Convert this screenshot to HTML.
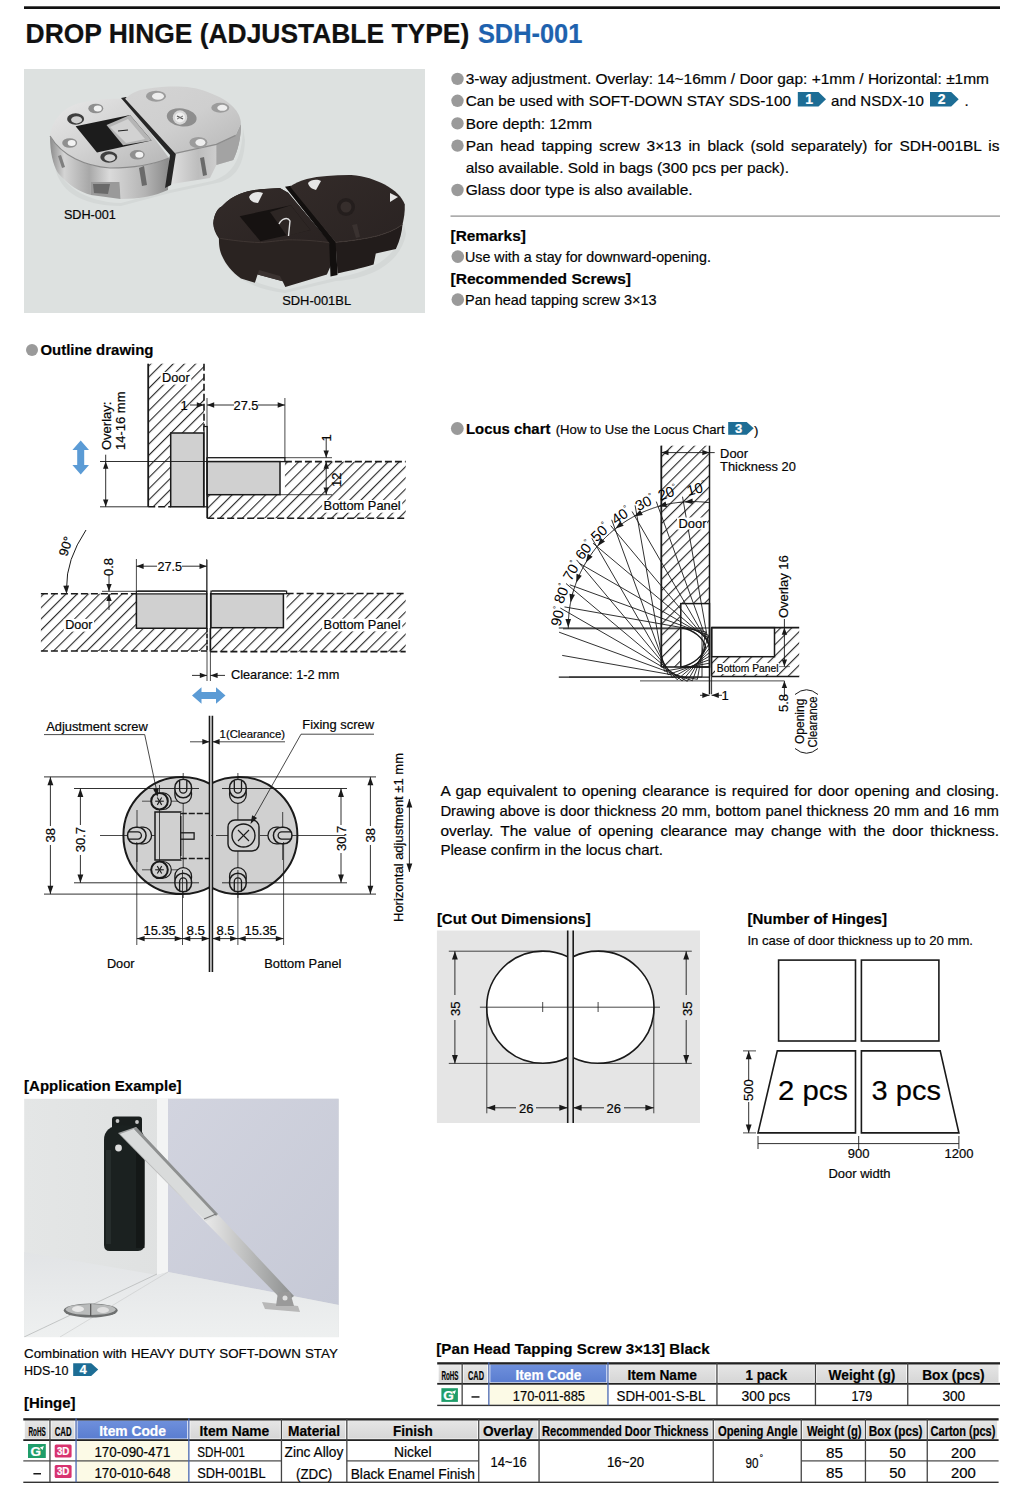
<!DOCTYPE html>
<html><head><meta charset="utf-8"><title>SDH-001</title>
<style>
html,body{margin:0;padding:0;background:#fff;}
body{width:1011px;height:1488px;overflow:hidden;}
svg{display:block;font-family:"Liberation Sans",sans-serif;}
</style></head><body>
<svg width="1011" height="1488" viewBox="0 0 1011 1488">
<defs>

<linearGradient id="silTop" x1="0" y1="0" x2="1" y2="1">
 <stop offset="0" stop-color="#e9e9e9"/><stop offset="0.5" stop-color="#d2d2d2"/><stop offset="1" stop-color="#b5b5b5"/>
</linearGradient>
<linearGradient id="silSide" x1="0" y1="0" x2="1" y2="0">
 <stop offset="0" stop-color="#8c8c8c"/><stop offset="0.12" stop-color="#d4d4d4"/><stop offset="0.33" stop-color="#a8a8a8"/><stop offset="0.5" stop-color="#dadada"/><stop offset="0.8" stop-color="#b4b4b4"/><stop offset="1" stop-color="#8a8a8a"/>
</linearGradient>
<linearGradient id="silSide2" x1="0" y1="0" x2="1" y2="0">
 <stop offset="0" stop-color="#e0e0e0"/><stop offset="0.4" stop-color="#bdbdbd"/><stop offset="0.7" stop-color="#d0d0d0"/><stop offset="1" stop-color="#9a9a9a"/>
</linearGradient>
<linearGradient id="silTop2" x1="0" y1="0" x2="1" y2="1">
 <stop offset="0" stop-color="#d4d4d4"/><stop offset="0.5" stop-color="#cfcfcf"/><stop offset="1" stop-color="#b8b8b8"/>
</linearGradient>
<linearGradient id="blkTop" x1="0" y1="0" x2="1" y2="1">
 <stop offset="0" stop-color="#332b29"/><stop offset="1" stop-color="#2a2322"/>
</linearGradient>
<linearGradient id="blkSide" x1="0" y1="0" x2="1" y2="0">
 <stop offset="0" stop-color="#1e1a19"/><stop offset="0.5" stop-color="#2b2524"/><stop offset="1" stop-color="#1c1817"/>
</linearGradient>


<pattern id="hatch" patternUnits="userSpaceOnUse" width="7.9" height="7.9" patternTransform="rotate(45)">
 <line x1="0.6" y1="-1" x2="0.6" y2="9" stroke="#1a1a1a" stroke-width="1.05"/>
</pattern>
<pattern id="hatch2" patternUnits="userSpaceOnUse" width="7.0" height="7.0" patternTransform="rotate(45)">
 <line x1="0.6" y1="-1" x2="0.6" y2="9" stroke="#1a1a1a" stroke-width="1.0"/>
</pattern>


<clipPath id="clipL"><rect x="0" y="700" width="209.5" height="300"/></clipPath>
<clipPath id="clipR"><rect x="212.4" y="700" width="300" height="300"/></clipPath>

<clipPath id="fanClip"><rect x="500" y="440" width="209.5" height="300"/></clipPath>
<clipPath id="cL"><rect x="430" y="930" width="137.7" height="200"/></clipPath>
<clipPath id="cR"><rect x="573.2" y="930" width="137" height="200"/></clipPath>

<linearGradient id="wallL" x1="0" y1="0" x2="1" y2="0">
 <stop offset="0" stop-color="#e4e6e6"/><stop offset="1" stop-color="#d9dbdb"/>
</linearGradient>
<linearGradient id="wallR" x1="0" y1="0" x2="1" y2="1">
 <stop offset="0" stop-color="#d2d4df"/><stop offset="1" stop-color="#c6c9d6"/>
</linearGradient>
<linearGradient id="floorG" x1="0" y1="0" x2="0" y2="1">
 <stop offset="0" stop-color="#e2e4e6"/><stop offset="1" stop-color="#eef0f0"/>
</linearGradient>
<linearGradient id="armG" x1="0" y1="0" x2="1" y2="0">
 <stop offset="0" stop-color="#9a9c9c"/><stop offset="0.5" stop-color="#e8e8e8"/><stop offset="1" stop-color="#8c8e8e"/>
</linearGradient>
<clipPath id="appClip"><rect x="24.1" y="1098.6" width="314.7" height="238.7"/></clipPath>


<linearGradient id="hdrG" x1="0" y1="0" x2="0" y2="1">
 <stop offset="0" stop-color="#e6e6e6"/><stop offset="1" stop-color="#d6d6d6"/>
</linearGradient>
<linearGradient id="hdrB" x1="0" y1="0" x2="0" y2="1">
 <stop offset="0" stop-color="#6f90dc"/><stop offset="1" stop-color="#5a7dd0"/>
</linearGradient>

</defs>
<rect x="24.0" y="6.3" width="976.0" height="2.7" fill="#111" />
<text x="25.6" y="43.0" font-size="28" font-weight="bold" fill="#111" stroke="#111" stroke-width="0.22" textLength="443.6" lengthAdjust="spacingAndGlyphs" >DROP HINGE (ADJUSTABLE TYPE)</text>
<text x="477.9" y="43.0" font-size="28" font-weight="bold" fill="#1e62ae" stroke="#1e62ae" stroke-width="0.22" textLength="104.5" lengthAdjust="spacingAndGlyphs" >SDH-001</text>
<rect x="24.0" y="69.0" width="401.0" height="244.0" fill="#dde1e0" />
<circle cx="457.5" cy="78.9" r="6.2" fill="#9a9a9a" />
<text x="465.7" y="84.1" font-size="15" stroke="#1a1a1a" stroke-width="0.22" textLength="523.3" lengthAdjust="spacingAndGlyphs" >3-way adjustment. Overlay: 14~16mm / Door gap: +1mm / Horizontal: ±1mm</text>
<circle cx="457.5" cy="100.8" r="6.2" fill="#9a9a9a" />
<text x="465.7" y="106.0" font-size="15" stroke="#1a1a1a" stroke-width="0.22" textLength="325.3" lengthAdjust="spacingAndGlyphs" >Can be used with SOFT-DOWN STAY SDS-100</text>
<path d="M797.8,92.0 H818.5 L826.0,99.2 L818.5,106.5 H797.8 Z" fill="#1d6d95" />
<text x="809.1" y="104.2" font-size="14" font-weight="bold" fill="#fff" stroke="#fff" stroke-width="0.22" text-anchor="middle" >1</text>
<text x="831.0" y="106.0" font-size="15" stroke="#1a1a1a" stroke-width="0.22" textLength="93.0" lengthAdjust="spacingAndGlyphs" >and NSDX-10</text>
<path d="M930.0,92.0 H951.2 L958.7,99.2 L951.2,106.5 H930.0 Z" fill="#1d6d95" />
<text x="941.6" y="104.2" font-size="14" font-weight="bold" fill="#fff" stroke="#fff" stroke-width="0.22" text-anchor="middle" >2</text>
<text x="964.5" y="106.0" font-size="15" stroke="#1a1a1a" stroke-width="0.22" >.</text>
<circle cx="457.5" cy="123.4" r="6.2" fill="#9a9a9a" />
<text x="465.7" y="128.6" font-size="15" stroke="#1a1a1a" stroke-width="0.22" textLength="126.3" lengthAdjust="spacingAndGlyphs" >Bore depth: 12mm</text>
<circle cx="457.5" cy="145.6" r="6.2" fill="#9a9a9a" />
<text x="465.7" y="150.8" font-size="15" stroke="#1a1a1a" stroke-width="0.22" textLength="533.8" lengthAdjust="spacingAndGlyphs" word-spacing="2.63">Pan head tapping screw 3×13 in black (sold separately) for SDH-001BL is</text>
<text x="465.7" y="173.0" font-size="15" stroke="#1a1a1a" stroke-width="0.22" textLength="323.3" lengthAdjust="spacingAndGlyphs" >also available. Sold in bags (300 pcs per pack).</text>
<circle cx="457.5" cy="190.0" r="6.2" fill="#9a9a9a" />
<text x="465.7" y="195.2" font-size="15" stroke="#1a1a1a" stroke-width="0.22" textLength="226.9" lengthAdjust="spacingAndGlyphs" >Glass door type is also available.</text>
<rect x="450.5" y="215.5" width="549.5" height="1.2" fill="#8a8a8a" />
<text x="450.5" y="241.0" font-size="15" font-weight="bold" stroke="#1a1a1a" stroke-width="0.22" textLength="75.4" lengthAdjust="spacingAndGlyphs" >[Remarks]</text>
<circle cx="457.8" cy="256.6" r="6.3" fill="#9a9a9a" />
<text x="465.0" y="261.5" font-size="14.3" stroke="#1a1a1a" stroke-width="0.22" textLength="245.9" lengthAdjust="spacingAndGlyphs" >Use with a stay for downward-opening.</text>
<text x="450.5" y="283.7" font-size="15" font-weight="bold" stroke="#1a1a1a" stroke-width="0.22" textLength="180.5" lengthAdjust="spacingAndGlyphs" >[Recommended Screws]</text>
<circle cx="457.8" cy="299.6" r="6.3" fill="#9a9a9a" />
<text x="465.0" y="304.7" font-size="14.3" stroke="#1a1a1a" stroke-width="0.22" textLength="191.6" lengthAdjust="spacingAndGlyphs" >Pan head tapping screw 3×13</text>
<path d="M54,160 C60,185 85,202 121,203 L170,190 L212,181 C232,175 242,160 243,128 L245,140 C244,170 232,181 212,184 L170,193 L121,206 C80,206 56,190 54,160 Z" fill="#d4d8d7" />
<path d="M50,136 C50,152 53,165 58,173 C68,185 80,192 91,195 L91,182 L119.5,182 L120.5,199 C140,199 155,196 168,190 L169,158 C150,166 128,168 110,168 C85,166 62,156 50,136 Z" fill="url(#silSide)" />
<path d="M91,182 L119.5,182 L120.5,199 L91,195 Z" fill="#9a9a9a" />
<path d="M93,184 L110,184 L108,194 L94,193 Z" fill="#6a6a6a" />
<line x1="51.0" y1="140.0" x2="168.0" y2="159.0" stroke="#1a1a1a" stroke-width="0" />
<path d="M50,136 C52,118 65,107 80,103 C95,99 112,98 125,99 L169,158 C150,166 128,168 110,168 C85,166 62,156 50,136 Z" fill="url(#silTop)" />
<path d="M50,136 C62,156 85,166 110,168 C128,168 150,166 169,158" fill="none" stroke="#8a8a8a" stroke-width="1.2" />
<path d="M75.6,126.3 L130,115 L151.6,140.5 L97,152.4 Z" fill="#1c1c1c" />
<path d="M106.5,125 L130,115 L151.6,140.5 L123,145.3 Z" fill="#b5b5b5" />
<path d="M110,127 L128,119 L145,139 L126,143 Z" fill="#d2d2d2" />
<line x1="118.0" y1="131.0" x2="128.0" y2="130.0" stroke="#222" stroke-width="1.2" />
<ellipse cx="75.6" cy="119" rx="8.5" ry="5.8" fill="#3e3e3e"/>
<ellipse cx="76.6" cy="119.8" rx="5.5" ry="3.6" fill="#d0d0d0"/>
<ellipse cx="108.8" cy="157" rx="8.5" ry="5.8" fill="#3e3e3e"/>
<ellipse cx="109.8" cy="157.8" rx="5.5" ry="3.6" fill="#d0d0d0"/>
<ellipse cx="69.7" cy="143" rx="7.5" ry="4.8" fill="#8f8f8f"/>
<ellipse cx="71.7" cy="143" rx="4" ry="3" fill="#f2f2f2"/>
<ellipse cx="95.8" cy="108.5" rx="7.5" ry="4.8" fill="#8f8f8f"/>
<ellipse cx="97.8" cy="108.5" rx="4" ry="3" fill="#f2f2f2"/>
<ellipse cx="137.3" cy="154.8" rx="7.5" ry="4.8" fill="#8f8f8f"/>
<ellipse cx="139.3" cy="154.8" rx="4" ry="3" fill="#f2f2f2"/>
<path d="M58,156 L62,168 L65,167 L61,155 Z" fill="#7f7f7f" />
<path d="M139,168 L142,186 L147,185 L144,166 Z" fill="#6a6a6a" />
<path d="M175.3,153.4 L170.1,184.3 L210,177.9 L216.4,165 L233.2,159.9 C238,150 241,138 240.9,123.9 C239,128 237,132 235.7,135.4 L216.4,144.4 Z" fill="url(#silSide2)" />
<path d="M216.4,144.4 L216.4,165 L233.2,159.9 C238,150 241,138 240.9,123.9 L235.7,135.4 Z" fill="#a3a3a3" />
<path d="M200,158 L203,176 L207,175 L204,157 Z" fill="#6a6a6a" />
<path d="M121,98 L126,97 L176,153 L171,185 L165,188 L170,155 Z" fill="#262626" />
<path d="M125.1,98.8 C132,93 138,90 145.7,89.1 C158,87 168,86.5 177.9,86.6 C192,87 200,89 210,93 C220,97 228,101 233.2,107.1 C238,112 241,118 240.9,123.9 C239,128 237,132 235.7,135.4 L216.4,144.4 L175.3,153.4 Z" fill="url(#silTop2)" />
<path d="M175.3,153.4 L216.4,144.4 L235.7,135.4" fill="none" stroke="#8c8c8c" stroke-width="1.2" />
<ellipse cx="156" cy="96.2" rx="10" ry="5.5" fill="#9c9c9c"/>
<ellipse cx="158" cy="96.2" rx="6" ry="3.5" fill="#eeeeee"/>
<ellipse cx="220.3" cy="107.8" rx="9" ry="5" fill="#9c9c9c"/>
<ellipse cx="222.3" cy="107.8" rx="5" ry="3" fill="#eeeeee"/>
<ellipse cx="198.4" cy="142.5" rx="9" ry="5.5" fill="#9c9c9c"/>
<ellipse cx="200.4" cy="142.5" rx="5" ry="3.5" fill="#eeeeee"/>
<ellipse cx="181.7" cy="117.4" rx="15" ry="9" fill="#8e8e8e" transform="rotate(8 181.7 117.4)"/>
<circle cx="180.0" cy="117.5" r="7.2" fill="#d6d6d6" />
<circle cx="180.0" cy="117.5" r="5.0" fill="#efefef" />
<line x1="177.0" y1="116.0" x2="183.0" y2="119.0" stroke="#555" stroke-width="1.3" />
<line x1="177.0" y1="119.0" x2="183.0" y2="116.0" stroke="#777" stroke-width="1.0" />
<text x="63.9" y="219.1" font-size="13" stroke="#1a1a1a" stroke-width="0.22" textLength="52.0" lengthAdjust="spacingAndGlyphs" >SDH-001</text>
<path d="M218,240 C222,262 240,282 285,290 L335,278 C372,272 400,257 404,224 L406,234 C401,262 372,279 336,281 L285,293 C240,287 220,268 218,240 Z" fill="#d4d8d7" />
<path d="M213.3,223.2 C214,214 218,208 221.6,206.5 C228,200 234,196 239.6,194 C247,191 253,190 260.4,189.2 L279.8,187.9 L288.1,192.7 L329.7,242.6 L332.4,262 L326.9,274.4 L285.3,286.9 L282.6,281.3 L257.6,274.4 L254.9,282.7 L241,278.6 C232,272 226,265 221.6,255 C219,248 219,243 218.9,238.4 C215,233 213.5,228 213.3,223.2 Z" fill="#2a2321" />
<path d="M213.3,223.2 C214,214 218,208 221.6,206.5 C228,200 234,196 239.6,194 C247,191 253,190 260.4,189.2 L279.8,187.9 L288.1,192.7 L329.7,242.6 C310,240 300,240 288,239.8 C275,241 268,242 260.4,242.6 C245,242 230,240 220.2,238.4 C216,233 213.5,228 213.3,223.2 Z" fill="url(#blkTop)" />
<path d="M220.2,238.4 C230,240 245,242 260.4,242.6 C268,242 275,241 288,239.8 C300,240 310,240 329.7,242.6" fill="none" stroke="#3f3633" stroke-width="1.0" />
<path d="M239.6,216.2 L290.9,205.2 L310.3,230.1 L260.4,241.2 Z" fill="#161211" />
<path d="M270,212 L290.9,205.2 L310.3,230.1 L287,236 Z" fill="#2d2624" />
<path d="M279,224 C282,218 288,217 290,221 L288.5,236" fill="none" stroke="#e0e0e0" stroke-width="1.4" />
<path d="M257.6,274.4 L282.6,281.3 L280,276 L259,270 Z" fill="#3a3230" />
<path d="M285,186.8 L291,185.8 L336,242.2 L337.5,275 L330.5,276.5 L329.2,242.8 Z" fill="#120f0e" />
<path d="M335.5,242.3 L337.5,273.5 C355,270 365,267 373.6,264.6 L375.8,253.5 L395.9,249 C400,240 402,232 402.5,224.5 C395,230 387,233 378,235.7 C365,239 350,241 335.5,242.3 Z" fill="#221c1b" />
<path d="M290,186.5 C295,183 300,181 306.8,179 C320,176 335,175 351.3,175.1 C365,176 375,180 384.7,184.5 C395,190 402,197 404.8,204.5 C405,212 404,218 402.5,224.5 C395,230 387,233 378,235.7 C365,239 350,241 335.5,242.3 Z" fill="url(#blkTop)" />
<path d="M335.5,242.3 C350,241 365,239 378,235.7 C387,233 395,230 402.5,224.5" fill="none" stroke="#3f3633" stroke-width="1.0" />
<path d="M249,197 C251,192 258,191 263,193 L258,203 C254,203 250,201 249,197 Z" fill="#e6e6e6" />
<path d="M308,183 C311,179 318,179 321,181 L316,190 C312,189 309,187 308,183 Z" fill="#e6e6e6" />
<path d="M390,193 L398,197 L390,202 Z" fill="#e6e6e6" />
<circle cx="346.0" cy="207.0" r="9.0" fill="#241e1d" />
<circle cx="346.0" cy="207.0" r="5.5" fill="#362e2c" />
<path d="M352,225 L356,238 L360,237 L357,224 Z" fill="#3a3230" />
<text x="282.2" y="304.7" font-size="13" stroke="#1a1a1a" stroke-width="0.22" textLength="68.9" lengthAdjust="spacingAndGlyphs" >SDH-001BL</text>
<circle cx="32.0" cy="350.0" r="6.0" fill="#9a9a9a" />
<text x="40.4" y="355.4" font-size="15" font-weight="bold" stroke="#1a1a1a" stroke-width="0.22" textLength="113.1" lengthAdjust="spacingAndGlyphs" >Outline drawing</text>
<rect x="148.2" y="363.7" width="55.8" height="143.1" fill="url(#hatch)" />
<line x1="148.2" y1="363.7" x2="148.2" y2="506.8" stroke="#1a1a1a" stroke-width="1.8" />
<line x1="204.0" y1="363.7" x2="204.0" y2="433.0" stroke="#1a1a1a" stroke-width="1.6" stroke-dasharray="7 3"/>
<line x1="148.2" y1="506.8" x2="170.7" y2="506.8" stroke="#1a1a1a" stroke-width="1.6" stroke-dasharray="7 3"/>
<rect x="204.0" y="426.5" width="3.2" height="80.3" fill="#fff" stroke="#1a1a1a" stroke-width="1.2" />
<rect x="170.7" y="433.0" width="33.0" height="73.8" fill="#d0d0d0" stroke="#1a1a1a" stroke-width="1.5" />
<rect x="207.2" y="461.6" width="198.5" height="56.6" fill="url(#hatch)" />
<rect x="207.2" y="457.7" width="77.7" height="37.0" fill="#fff" />
<line x1="207.2" y1="457.7" x2="207.2" y2="518.2" stroke="#1a1a1a" stroke-width="1.8" />
<line x1="284.9" y1="461.6" x2="405.7" y2="461.6" stroke="#1a1a1a" stroke-width="1.6" stroke-dasharray="7 3"/>
<line x1="207.2" y1="518.2" x2="405.7" y2="518.2" stroke="#1a1a1a" stroke-width="1.6" stroke-dasharray="7 3"/>
<rect x="207.2" y="457.7" width="77.7" height="3.9" fill="#fff" stroke="#1a1a1a" stroke-width="1.3" />
<rect x="207.2" y="461.6" width="72.8" height="33.1" fill="#d0d0d0" stroke="#1a1a1a" stroke-width="1.5" />
<line x1="100.0" y1="461.5" x2="207.0" y2="461.5" stroke="#1a1a1a" stroke-width="0.9" />
<line x1="100.0" y1="506.8" x2="148.2" y2="506.8" stroke="#1a1a1a" stroke-width="0.9" />
<line x1="105.7" y1="454.7" x2="105.7" y2="506.8" stroke="#1a1a1a" stroke-width="0.9" />
<path d="M105.70,461.50 L108.38,468.70 L103.02,468.70 Z" fill="#1a1a1a" />
<path d="M105.70,506.80 L103.02,499.60 L108.38,499.60 Z" fill="#1a1a1a" />
<text x="110.5" y="450.0" font-size="13" stroke="#1a1a1a" stroke-width="0.22" transform="rotate(-90 110.5 450.0)" >Overlay:</text>
<text x="124.5" y="450.0" font-size="13" stroke="#1a1a1a" stroke-width="0.22" transform="rotate(-90 124.5 450.0)" >14-16 mm</text>
<path d="M80.7,440.5 L89,450 L84.2,450 L84.2,465 L89,465 L80.7,474.5 L72.4,465 L77.2,465 L77.2,450 L72.4,450 Z" fill="#5b9bd5" />
<line x1="207.0" y1="398.0" x2="207.0" y2="457.7" stroke="#1a1a1a" stroke-width="0.8" />
<line x1="284.9" y1="398.0" x2="284.9" y2="457.7" stroke="#1a1a1a" stroke-width="0.8" />
<line x1="190.0" y1="405.0" x2="204.0" y2="405.0" stroke="#1a1a1a" stroke-width="0.9" />
<path d="M204.00,405.00 L196.80,407.68 L196.80,402.32 Z" fill="#1a1a1a" />
<line x1="207.0" y1="405.0" x2="234.0" y2="405.0" stroke="#1a1a1a" stroke-width="0.9" />
<path d="M207.00,405.00 L214.20,402.32 L214.20,407.68 Z" fill="#1a1a1a" />
<line x1="258.0" y1="405.0" x2="284.9" y2="405.0" stroke="#1a1a1a" stroke-width="0.9" />
<path d="M284.90,405.00 L277.70,407.68 L277.70,402.32 Z" fill="#1a1a1a" />
<text x="233.5" y="410.0" font-size="13" stroke="#1a1a1a" stroke-width="0.22" textLength="25.0" lengthAdjust="spacingAndGlyphs" >27.5</text>
<text x="180.5" y="410.0" font-size="13" stroke="#1a1a1a" stroke-width="0.22" >1</text>
<rect x="160.5" y="371.9" width="30.7" height="12.7" fill="#fff" />
<text x="162.0" y="382.0" font-size="13" stroke="#1a1a1a" stroke-width="0.22" textLength="27.7" lengthAdjust="spacingAndGlyphs" >Door</text>
<line x1="285.0" y1="457.7" x2="332.0" y2="457.7" stroke="#1a1a1a" stroke-width="0.8" />
<line x1="280.0" y1="494.7" x2="332.0" y2="494.7" stroke="#1a1a1a" stroke-width="0.8" />
<line x1="326.2" y1="438.0" x2="326.2" y2="457.7" stroke="#1a1a1a" stroke-width="0.9" />
<path d="M326.20,457.70 L323.52,450.50 L328.88,450.50 Z" fill="#1a1a1a" />
<line x1="326.2" y1="461.6" x2="326.2" y2="494.7" stroke="#1a1a1a" stroke-width="0.9" />
<path d="M326.20,461.60 L328.88,468.80 L323.52,468.80 Z" fill="#1a1a1a" />
<path d="M326.20,494.70 L323.52,487.50 L328.88,487.50 Z" fill="#1a1a1a" />
<text x="331.0" y="441.5" font-size="13" stroke="#1a1a1a" stroke-width="0.22" transform="rotate(-90 331.0 441.5)" >1</text>
<text x="340.5" y="487.0" font-size="13" stroke="#1a1a1a" stroke-width="0.22" transform="rotate(-90 340.5 487.0)" >12</text>
<rect x="322.1" y="500.0" width="80.1" height="12.7" fill="#fff" />
<text x="323.6" y="510.1" font-size="13" stroke="#1a1a1a" stroke-width="0.22" textLength="77.1" lengthAdjust="spacingAndGlyphs" >Bottom Panel</text>
<rect x="40.9" y="593.7" width="166.1" height="57.3" fill="url(#hatch)" />
<rect x="210.4" y="593.5" width="195.3" height="58.1" fill="url(#hatch)" />
<rect x="136.4" y="591.3" width="70.3" height="37.0" fill="#fff" />
<rect x="211.0" y="591.1" width="75.6" height="36.6" fill="#fff" />
<path d="M136.4,628.3 V593.7 L138,591.3 H205 L206.7,593.7 V628.3 Z" fill="#d0d0d0" stroke="#1a1a1a" stroke-width="1.5" />
<rect x="136.4" y="591.3" width="70.3" height="2.6" fill="#fff" stroke="#1a1a1a" stroke-width="1.2" />
<path d="M211,627.7 V593.7 L212.5,591.1 H285 L286.6,593.5" fill="none" stroke="#1a1a1a" stroke-width="1.4" />
<rect x="211.0" y="593.7" width="72.4" height="34.0" fill="#d0d0d0" stroke="#1a1a1a" stroke-width="1.5" />
<rect x="211.0" y="591.1" width="75.6" height="2.6" fill="#fff" stroke="#1a1a1a" stroke-width="1.2" />
<line x1="40.9" y1="593.7" x2="136.4" y2="593.7" stroke="#1a1a1a" stroke-width="1.6" stroke-dasharray="7 3"/>
<line x1="286.6" y1="593.5" x2="405.7" y2="593.5" stroke="#1a1a1a" stroke-width="1.6" stroke-dasharray="7 3"/>
<line x1="40.9" y1="651.0" x2="207.0" y2="651.0" stroke="#1a1a1a" stroke-width="1.6" stroke-dasharray="7 3"/>
<line x1="210.4" y1="651.6" x2="405.7" y2="651.6" stroke="#1a1a1a" stroke-width="1.6" stroke-dasharray="7 3"/>
<line x1="207.0" y1="628.0" x2="207.0" y2="651.0" stroke="#1a1a1a" stroke-width="1.4" stroke-dasharray="4 2"/>
<line x1="210.4" y1="628.0" x2="210.4" y2="651.6" stroke="#1a1a1a" stroke-width="1.6" />
<line x1="207.0" y1="560.0" x2="207.0" y2="681.0" stroke="#1a1a1a" stroke-width="0.8" />
<line x1="210.4" y1="593.0" x2="210.4" y2="681.0" stroke="#1a1a1a" stroke-width="0.8" />
<line x1="192.0" y1="675.4" x2="207.0" y2="675.4" stroke="#1a1a1a" stroke-width="0.9" />
<path d="M207.00,675.40 L199.80,678.08 L199.80,672.72 Z" fill="#1a1a1a" />
<line x1="210.4" y1="675.4" x2="225.0" y2="675.4" stroke="#1a1a1a" stroke-width="0.9" />
<path d="M210.40,675.40 L217.60,672.72 L217.60,678.08 Z" fill="#1a1a1a" />
<text x="231.0" y="678.8" font-size="13" stroke="#1a1a1a" stroke-width="0.22" textLength="108.3" lengthAdjust="spacingAndGlyphs" >Clearance: 1-2 mm</text>
<path d="M192,695.5 L201.5,687.2 L201.5,692 L216,692 L216,687.2 L225.5,695.5 L216,703.8 L216,699 L201.5,699 L201.5,703.8 Z" fill="#5b9bd5" />
<line x1="136.4" y1="559.0" x2="136.4" y2="591.3" stroke="#1a1a1a" stroke-width="0.8" />
<line x1="206.7" y1="559.0" x2="206.7" y2="591.3" stroke="#1a1a1a" stroke-width="0.8" />
<line x1="136.4" y1="566.2" x2="157.0" y2="566.2" stroke="#1a1a1a" stroke-width="0.9" />
<path d="M136.40,566.20 L143.60,563.52 L143.60,568.88 Z" fill="#1a1a1a" />
<line x1="182.0" y1="566.2" x2="206.7" y2="566.2" stroke="#1a1a1a" stroke-width="0.9" />
<path d="M206.70,566.20 L199.50,568.88 L199.50,563.52 Z" fill="#1a1a1a" />
<text x="157.5" y="571.0" font-size="13" stroke="#1a1a1a" stroke-width="0.22" textLength="24.5" lengthAdjust="spacingAndGlyphs" >27.5</text>
<line x1="102.0" y1="591.3" x2="136.4" y2="591.3" stroke="#1a1a1a" stroke-width="0.8" />
<line x1="109.0" y1="575.0" x2="109.0" y2="591.3" stroke="#1a1a1a" stroke-width="0.9" />
<path d="M109.00,591.30 L106.32,584.10 L111.68,584.10 Z" fill="#1a1a1a" />
<line x1="109.0" y1="593.7" x2="109.0" y2="610.0" stroke="#1a1a1a" stroke-width="0.9" />
<path d="M109.00,593.70 L111.68,600.90 L106.32,600.90 Z" fill="#1a1a1a" />
<text x="112.8" y="576.0" font-size="13" stroke="#1a1a1a" stroke-width="0.22" transform="rotate(-90 112.8 576.0)" >0.8</text>
<path d="M86,530 Q66,560 66.6,588" fill="none" stroke="#1a1a1a" stroke-width="1.0" />
<path d="M66.60,594.00 L63.26,585.76 L69.10,585.46 Z" fill="#1a1a1a" />
<text x="67.0" y="557.0" font-size="13" stroke="#1a1a1a" stroke-width="0.22" transform="rotate(-72 67.0 557.0)" >90°</text>
<rect x="63.7" y="618.9" width="30.3" height="12.7" fill="#fff" />
<text x="65.2" y="629.0" font-size="13" stroke="#1a1a1a" stroke-width="0.22" textLength="27.3" lengthAdjust="spacingAndGlyphs" >Door</text>
<rect x="322.1" y="618.7" width="80.1" height="12.7" fill="#fff" />
<text x="323.6" y="628.8" font-size="13" stroke="#1a1a1a" stroke-width="0.22" textLength="77.1" lengthAdjust="spacingAndGlyphs" >Bottom Panel</text>
<circle cx="182.0" cy="835.5" r="58.6" fill="#d0d0d0" stroke="#1a1a1a" stroke-width="2.0" clip-path="url(#clipL)"/>
<circle cx="238.8" cy="835.5" r="58.6" fill="#d0d0d0" stroke="#1a1a1a" stroke-width="2.0" clip-path="url(#clipR)"/>
<line x1="100.0" y1="835.5" x2="150.0" y2="835.5" stroke="#1a1a1a" stroke-width="0.8" />
<line x1="345.0" y1="835.5" x2="290.0" y2="835.5" stroke="#1a1a1a" stroke-width="0.8" />
<line x1="150" y1="835.5" x2="290" y2="835.5" stroke="#1a1a1a" stroke-width="0.8" stroke-dasharray="14 3 2 3"/>
<rect x="155.0" y="812.0" width="25.8" height="48.0" fill="#d0d0d0" stroke="#1a1a1a" stroke-width="1.5" />
<rect x="180.8" y="812.0" width="28.7" height="48.0" fill="#d0d0d0" />
<line x1="180.8" y1="813.5" x2="209.5" y2="813.5" stroke="#1a1a1a" stroke-width="1.6" stroke-dasharray="6 2"/>
<line x1="180.8" y1="858.5" x2="209.5" y2="858.5" stroke="#1a1a1a" stroke-width="1.6" stroke-dasharray="6 2"/>
<line x1="180.8" y1="816.0" x2="180.8" y2="856.0" stroke="#1a1a1a" stroke-width="1.3" />
<rect x="180.8" y="832.8" width="13.3" height="6.4" fill="#d0d0d0" stroke="#1a1a1a" stroke-width="1.3" />
<line x1="137.0" y1="810.0" x2="137.0" y2="862.0" stroke="#1a1a1a" stroke-width="0.8" />
<line x1="159.5" y1="785.0" x2="159.5" y2="878.0" stroke="#1a1a1a" stroke-width="0.8" />
<line x1="183.2" y1="773.0" x2="183.2" y2="898.0" stroke="#1a1a1a" stroke-width="0.8" />
<line x1="237.9" y1="773.0" x2="237.9" y2="898.0" stroke="#1a1a1a" stroke-width="0.8" />
<line x1="282.7" y1="812.0" x2="282.7" y2="860.0" stroke="#1a1a1a" stroke-width="0.8" />
<line x1="142.0" y1="801.2" x2="178.0" y2="801.2" stroke="#1a1a1a" stroke-width="0.7" />
<line x1="142.0" y1="869.8" x2="178.0" y2="869.8" stroke="#1a1a1a" stroke-width="0.7" />
<path d="M174.9,793.0 A8.3,8.3 0 0 1 191.5,793.0 V795.0 A8.3,8.3 0 0 1 174.9,795.0 Z" fill="#d0d0d0" stroke="#1a1a1a" stroke-width="1.3" />
<path d="M174.9,787.5 A8.3,8.3 0 0 1 191.5,787.5 V789.5 A8.3,8.3 0 0 1 174.9,789.5 Z" fill="#d0d0d0" stroke="#1a1a1a" stroke-width="1.5" />
<path d="M179.6,780.2 V789.5 A3.6,3.6 0 0 0 186.8,789.5 V780.2" fill="none" stroke="#1a1a1a" stroke-width="1.3" />
<path d="M174.9,876.0 A8.3,8.3 0 0 1 191.5,876.0 V878.0 A8.3,8.3 0 0 1 174.9,878.0 Z" fill="#d0d0d0" stroke="#1a1a1a" stroke-width="1.3" />
<path d="M174.9,881.5 A8.3,8.3 0 0 1 191.5,881.5 V883.5 A8.3,8.3 0 0 1 174.9,883.5 Z" fill="#d0d0d0" stroke="#1a1a1a" stroke-width="1.5" />
<path d="M179.6,890.8 V881.5 A3.6,3.6 0 0 1 186.8,881.5 V890.8" fill="none" stroke="#1a1a1a" stroke-width="1.3" />
<path d="M229.6,793.0 A8.3,8.3 0 0 1 246.2,793.0 V795.0 A8.3,8.3 0 0 1 229.6,795.0 Z" fill="#d0d0d0" stroke="#1a1a1a" stroke-width="1.3" />
<path d="M229.6,787.5 A8.3,8.3 0 0 1 246.2,787.5 V789.5 A8.3,8.3 0 0 1 229.6,789.5 Z" fill="#d0d0d0" stroke="#1a1a1a" stroke-width="1.5" />
<path d="M234.3,780.2 V789.5 A3.6,3.6 0 0 0 241.5,789.5 V780.2" fill="none" stroke="#1a1a1a" stroke-width="1.3" />
<path d="M229.6,876.0 A8.3,8.3 0 0 1 246.2,876.0 V878.0 A8.3,8.3 0 0 1 229.6,878.0 Z" fill="#d0d0d0" stroke="#1a1a1a" stroke-width="1.3" />
<path d="M229.6,881.5 A8.3,8.3 0 0 1 246.2,881.5 V883.5 A8.3,8.3 0 0 1 229.6,883.5 Z" fill="#d0d0d0" stroke="#1a1a1a" stroke-width="1.5" />
<path d="M234.3,890.8 V881.5 A3.6,3.6 0 0 1 241.5,881.5 V890.8" fill="none" stroke="#1a1a1a" stroke-width="1.3" />
<path d="M141.3,827.2 H143.3 A8.3,8.3 0 0 1 143.3,843.8 H141.3 A8.3,8.3 0 0 1 141.3,827.2 Z" fill="#d0d0d0" stroke="#1a1a1a" stroke-width="1.3" />
<path d="M135.8,827.2 H137.8 A8.3,8.3 0 0 1 137.8,843.8 H135.8 A8.3,8.3 0 0 1 135.8,827.2 Z" fill="#d0d0d0" stroke="#1a1a1a" stroke-width="1.5" />
<path d="M128.5,831.9 H137.8 A3.6,3.6 0 0 1 137.8,839.1 H128.5" fill="none" stroke="#1a1a1a" stroke-width="1.3" />
<path d="M276.2,827.2 H278.2 A8.3,8.3 0 0 1 278.2,843.8 H276.2 A8.3,8.3 0 0 1 276.2,827.2 Z" fill="#d0d0d0" stroke="#1a1a1a" stroke-width="1.3" />
<path d="M281.7,827.2 H283.7 A8.3,8.3 0 0 1 283.7,843.8 H281.7 A8.3,8.3 0 0 1 281.7,827.2 Z" fill="#d0d0d0" stroke="#1a1a1a" stroke-width="1.5" />
<path d="M291.0,831.9 H281.7 A3.6,3.6 0 0 0 281.7,839.1 H291.0" fill="none" stroke="#1a1a1a" stroke-width="1.3" />
<circle cx="163.0" cy="801.2" r="8.3" fill="#d0d0d0" stroke="#1a1a1a" stroke-width="1.2" />
<circle cx="159.5" cy="801.2" r="8.3" fill="#d0d0d0" stroke="#1a1a1a" stroke-width="2.0" />
<line x1="155.2" y1="801.2" x2="163.8" y2="801.2" stroke="#1a1a1a" stroke-width="1.1" />
<line x1="157.3" y1="797.5" x2="161.7" y2="804.9" stroke="#1a1a1a" stroke-width="1.1" />
<line x1="161.7" y1="797.5" x2="157.3" y2="804.9" stroke="#1a1a1a" stroke-width="1.1" />
<circle cx="163.0" cy="869.8" r="8.3" fill="#d0d0d0" stroke="#1a1a1a" stroke-width="1.2" />
<circle cx="159.5" cy="869.8" r="8.3" fill="#d0d0d0" stroke="#1a1a1a" stroke-width="2.0" />
<line x1="155.2" y1="869.8" x2="163.8" y2="869.8" stroke="#1a1a1a" stroke-width="1.1" />
<line x1="157.3" y1="866.1" x2="161.7" y2="873.5" stroke="#1a1a1a" stroke-width="1.1" />
<line x1="161.7" y1="866.1" x2="157.3" y2="873.5" stroke="#1a1a1a" stroke-width="1.1" />
<rect x="228.0" y="820.0" width="31.0" height="31.0" fill="#d0d0d0" stroke="#1a1a1a" stroke-width="1.4" rx="7"/>
<circle cx="243.5" cy="835.5" r="11.5" fill="#d0d0d0" stroke="#1a1a1a" stroke-width="1.4" />
<line x1="238.0" y1="830.0" x2="249.0" y2="841.0" stroke="#1a1a1a" stroke-width="1.1" />
<line x1="238.0" y1="841.0" x2="249.0" y2="830.0" stroke="#1a1a1a" stroke-width="1.1" />
<line x1="209.5" y1="715.8" x2="209.5" y2="971.9" stroke="#1a1a1a" stroke-width="1.6" />
<line x1="212.4" y1="715.8" x2="212.4" y2="971.9" stroke="#1a1a1a" stroke-width="1.6" />
<line x1="44.0" y1="776.9" x2="182.0" y2="776.9" stroke="#1a1a1a" stroke-width="0.9" />
<line x1="44.0" y1="894.1" x2="182.0" y2="894.1" stroke="#1a1a1a" stroke-width="0.9" />
<line x1="74.0" y1="788.5" x2="199.0" y2="788.5" stroke="#1a1a1a" stroke-width="0.9" />
<line x1="74.0" y1="882.8" x2="199.0" y2="882.8" stroke="#1a1a1a" stroke-width="0.9" />
<line x1="50.4" y1="776.9" x2="50.4" y2="826.0" stroke="#1a1a1a" stroke-width="0.9" />
<line x1="50.4" y1="845.0" x2="50.4" y2="894.1" stroke="#1a1a1a" stroke-width="0.9" />
<path d="M50.40,776.90 L53.33,785.30 L47.47,785.30 Z" fill="#1a1a1a" />
<path d="M50.40,894.10 L47.47,885.70 L53.33,885.70 Z" fill="#1a1a1a" />
<text x="55.0" y="842.5" font-size="13" stroke="#1a1a1a" stroke-width="0.22" transform="rotate(-90 55.0 842.5)" >38</text>
<line x1="80.4" y1="788.5" x2="80.4" y2="825.0" stroke="#1a1a1a" stroke-width="0.9" />
<line x1="80.4" y1="855.0" x2="80.4" y2="882.8" stroke="#1a1a1a" stroke-width="0.9" />
<path d="M80.40,788.50 L83.33,796.90 L77.47,796.90 Z" fill="#1a1a1a" />
<path d="M80.40,882.80 L77.47,874.40 L83.33,874.40 Z" fill="#1a1a1a" />
<text x="85.0" y="852.3" font-size="13" stroke="#1a1a1a" stroke-width="0.22" transform="rotate(-90 85.0 852.3)" >30.7</text>
<line x1="238.8" y1="776.9" x2="376.0" y2="776.9" stroke="#1a1a1a" stroke-width="0.9" />
<line x1="238.8" y1="894.1" x2="376.0" y2="894.1" stroke="#1a1a1a" stroke-width="0.9" />
<line x1="222.0" y1="788.5" x2="347.0" y2="788.5" stroke="#1a1a1a" stroke-width="0.9" />
<line x1="222.0" y1="882.8" x2="347.0" y2="882.8" stroke="#1a1a1a" stroke-width="0.9" />
<line x1="341.0" y1="788.5" x2="341.0" y2="825.0" stroke="#1a1a1a" stroke-width="0.9" />
<line x1="341.0" y1="853.0" x2="341.0" y2="882.8" stroke="#1a1a1a" stroke-width="0.9" />
<path d="M341.00,788.50 L343.93,796.90 L338.07,796.90 Z" fill="#1a1a1a" />
<path d="M341.00,882.80 L338.07,874.40 L343.93,874.40 Z" fill="#1a1a1a" />
<text x="345.5" y="851.0" font-size="13" stroke="#1a1a1a" stroke-width="0.22" transform="rotate(-90 345.5 851.0)" >30.7</text>
<line x1="370.4" y1="776.9" x2="370.4" y2="826.0" stroke="#1a1a1a" stroke-width="0.9" />
<line x1="370.4" y1="845.0" x2="370.4" y2="894.1" stroke="#1a1a1a" stroke-width="0.9" />
<path d="M370.40,776.90 L373.33,785.30 L367.47,785.30 Z" fill="#1a1a1a" />
<path d="M370.40,894.10 L367.47,885.70 L373.33,885.70 Z" fill="#1a1a1a" />
<text x="375.0" y="842.5" font-size="13" stroke="#1a1a1a" stroke-width="0.22" transform="rotate(-90 375.0 842.5)" >38</text>
<text x="403.0" y="922.0" font-size="13" stroke="#1a1a1a" stroke-width="0.22" transform="rotate(-90 403.0 922.0)" >Horizontal adjustment ±1 mm</text>
<line x1="409.4" y1="799.0" x2="409.4" y2="872.0" stroke="#1a1a1a" stroke-width="0.9" />
<path d="M409.40,799.00 L412.33,807.40 L406.47,807.40 Z" fill="#1a1a1a" />
<path d="M409.40,872.00 L406.47,863.60 L412.33,863.60 Z" fill="#1a1a1a" />
<line x1="136.8" y1="842.0" x2="136.8" y2="945.0" stroke="#1a1a1a" stroke-width="0.8" />
<line x1="182.5" y1="870.0" x2="182.5" y2="945.0" stroke="#1a1a1a" stroke-width="0.8" />
<line x1="237.9" y1="870.0" x2="237.9" y2="945.0" stroke="#1a1a1a" stroke-width="0.8" />
<line x1="283.6" y1="842.0" x2="283.6" y2="945.0" stroke="#1a1a1a" stroke-width="0.8" />
<line x1="136.8" y1="938.6" x2="209.5" y2="938.6" stroke="#1a1a1a" stroke-width="0.9" />
<line x1="212.4" y1="938.6" x2="283.6" y2="938.6" stroke="#1a1a1a" stroke-width="0.9" />
<path d="M136.80,938.60 L144.60,935.92 L144.60,941.28 Z" fill="#1a1a1a" />
<path d="M182.50,938.60 L174.70,941.28 L174.70,935.92 Z" fill="#1a1a1a" />
<path d="M182.50,938.60 L190.30,935.92 L190.30,941.28 Z" fill="#1a1a1a" />
<path d="M209.50,938.60 L201.70,941.28 L201.70,935.92 Z" fill="#1a1a1a" />
<path d="M212.40,938.60 L220.20,935.92 L220.20,941.28 Z" fill="#1a1a1a" />
<path d="M237.90,938.60 L230.10,941.28 L230.10,935.92 Z" fill="#1a1a1a" />
<path d="M237.90,938.60 L245.70,935.92 L245.70,941.28 Z" fill="#1a1a1a" />
<path d="M283.60,938.60 L275.80,941.28 L275.80,935.92 Z" fill="#1a1a1a" />
<text x="143.5" y="934.5" font-size="13" stroke="#1a1a1a" stroke-width="0.22" textLength="32.3" lengthAdjust="spacingAndGlyphs" >15.35</text>
<text x="186.5" y="934.5" font-size="13" stroke="#1a1a1a" stroke-width="0.22" textLength="18.5" lengthAdjust="spacingAndGlyphs" >8.5</text>
<text x="216.5" y="934.5" font-size="13" stroke="#1a1a1a" stroke-width="0.22" textLength="18.0" lengthAdjust="spacingAndGlyphs" >8.5</text>
<text x="244.5" y="934.5" font-size="13" stroke="#1a1a1a" stroke-width="0.22" textLength="32.3" lengthAdjust="spacingAndGlyphs" >15.35</text>
<text x="106.9" y="967.7" font-size="13" stroke="#1a1a1a" stroke-width="0.22" textLength="27.6" lengthAdjust="spacingAndGlyphs" >Door</text>
<text x="264.2" y="967.7" font-size="13" stroke="#1a1a1a" stroke-width="0.22" textLength="77.3" lengthAdjust="spacingAndGlyphs" >Bottom Panel</text>
<text x="46.2" y="730.7" font-size="13" stroke="#1a1a1a" stroke-width="0.22" textLength="101.5" lengthAdjust="spacingAndGlyphs" >Adjustment screw</text>
<line x1="44.0" y1="734.6" x2="144.7" y2="734.6" stroke="#1a1a1a" stroke-width="0.8" />
<line x1="144.7" y1="734.6" x2="157.6" y2="795.0" stroke="#1a1a1a" stroke-width="0.8" />
<path d="M157.60,797.00 L153.13,789.36 L158.62,788.20 Z" fill="#1a1a1a" />
<text x="302.3" y="729.4" font-size="13" stroke="#1a1a1a" stroke-width="0.22" textLength="71.7" lengthAdjust="spacingAndGlyphs" >Fixing screw</text>
<line x1="301.0" y1="734.2" x2="374.0" y2="734.2" stroke="#1a1a1a" stroke-width="0.8" />
<line x1="301.0" y1="734.2" x2="252.0" y2="821.0" stroke="#1a1a1a" stroke-width="0.8" />
<path d="M250.50,824.00 L252.18,815.30 L257.07,818.06 Z" fill="#1a1a1a" />
<text x="219.6" y="738.0" font-size="11.5" stroke="#1a1a1a" stroke-width="0.22" textLength="65.4" lengthAdjust="spacingAndGlyphs" >1(Clearance)</text>
<line x1="212.4" y1="741.8" x2="285.0" y2="741.8" stroke="#1a1a1a" stroke-width="0.8" />
<line x1="190.0" y1="741.8" x2="209.5" y2="741.8" stroke="#1a1a1a" stroke-width="0.8" />
<path d="M209.50,741.80 L202.30,744.48 L202.30,739.12 Z" fill="#1a1a1a" />
<path d="M212.40,741.80 L219.60,739.12 L219.60,744.48 Z" fill="#1a1a1a" />
<circle cx="457.3" cy="428.5" r="6.4" fill="#9a9a9a" />
<text x="466.0" y="434.2" font-size="15" font-weight="bold" stroke="#1a1a1a" stroke-width="0.22" textLength="84.4" lengthAdjust="spacingAndGlyphs" >Locus chart</text>
<text x="555.7" y="434.2" font-size="13.2" stroke="#1a1a1a" stroke-width="0.22" textLength="168.9" lengthAdjust="spacingAndGlyphs" >(How to Use the Locus Chart</text>
<path d="M728.2,421.9 H746.7 L753.7,428.3 L746.7,434.8 H728.2 Z" fill="#1d6d95" />
<text x="738.5" y="432.5" font-size="13" font-weight="bold" fill="#fff" stroke="#fff" stroke-width="0.22" text-anchor="middle" >3</text>
<text x="754.0" y="434.6" font-size="13.2" stroke="#1a1a1a" stroke-width="0.22" >)</text>
<rect x="661.3" y="445.7" width="48.2" height="221.3" fill="url(#hatch)" />
<rect x="680.8" y="603.6" width="28.7" height="63.4" fill="#fff" />
<rect x="711.6" y="627.6" width="87.6" height="48.9" fill="url(#hatch)" />
<rect x="711.6" y="627.6" width="62.9" height="29.1" fill="#fff" stroke="#1a1a1a" stroke-width="1.5" />
<line x1="711.6" y1="627.6" x2="799.2" y2="627.6" stroke="#1a1a1a" stroke-width="1.6" />
<line x1="711.6" y1="676.5" x2="799.2" y2="676.5" stroke="#1a1a1a" stroke-width="1.6" />
<line x1="711.6" y1="627.6" x2="711.6" y2="676.5" stroke="#1a1a1a" stroke-width="1.6" />
<path d="M664.4,671.2L635.1,505.4M711.8,662.8L682.5,496.7M664.4,671.2L711.8,662.8M668.1,674.7L611.7,519.8M713.4,658.3L656.3,501.6M668.1,674.7L713.4,658.3M672.4,677.6L591.9,538.3M714.1,653.5L632.1,511.5M672.4,677.6L714.1,653.5M677.1,679.7L576.6,559.9M714.0,648.7L610.7,525.6M677.1,679.7L714.0,648.7M682.1,680.9L566.0,583.5M713.1,644.0L593.0,543.2M682.1,680.9L713.1,644.0M687.3,681.3L560.3,608.0M711.4,639.5L579.3,563.3M687.3,681.3L711.4,639.5M692.4,680.7L559.1,632.2M708.9,635.4L569.8,584.8M692.4,680.7L708.9,635.4M697.4,679.3L562.2,655.4M705.7,631.8L564.5,606.9M697.4,679.3L705.7,631.8M702.0,677.0L569.0,677.0M702.0,628.8L563.0,628.8M702.0,677.0L702.0,628.8" fill="none" stroke="#1a1a1a" stroke-width="0.9" clip-path="url(#fanClip)"/>
<line x1="661.3" y1="445.7" x2="661.3" y2="667.0" stroke="#1a1a1a" stroke-width="1.8" />
<line x1="709.5" y1="445.7" x2="709.5" y2="694.3" stroke="#1a1a1a" stroke-width="1.5" />
<line x1="661.3" y1="667.0" x2="709.5" y2="667.0" stroke="#1a1a1a" stroke-width="1.4" />
<rect x="680.8" y="603.6" width="28.7" height="63.4" fill="none" stroke="#1a1a1a" stroke-width="1.5" />
<path d="M681.6,627.8 C694,630 703,638 705.6,646.7 C703,656 694,664 681.6,667" fill="none" stroke="#1a1a1a" stroke-width="1.4" />
<line x1="558.8" y1="628.0" x2="709.5" y2="628.0" stroke="#1a1a1a" stroke-width="1.2" />
<line x1="558.8" y1="677.2" x2="709.5" y2="677.2" stroke="#1a1a1a" stroke-width="1.2" />
<line x1="640.0" y1="680.9" x2="784.4" y2="680.9" stroke="#1a1a1a" stroke-width="0.8" />
<line x1="711.6" y1="676.5" x2="711.6" y2="694.3" stroke="#1a1a1a" stroke-width="0.9" />
<line x1="661.3" y1="452.6" x2="714.7" y2="452.6" stroke="#1a1a1a" stroke-width="0.9" />
<path d="M661.30,452.60 L668.50,449.92 L668.50,455.28 Z" fill="#1a1a1a" />
<path d="M709.50,452.60 L702.30,455.28 L702.30,449.92 Z" fill="#1a1a1a" />
<text x="720.1" y="457.5" font-size="13" stroke="#1a1a1a" stroke-width="0.22" textLength="27.9" lengthAdjust="spacingAndGlyphs" >Door</text>
<text x="720.1" y="471.0" font-size="13" stroke="#1a1a1a" stroke-width="0.22" textLength="75.7" lengthAdjust="spacingAndGlyphs" >Thickness 20</text>
<rect x="677.0" y="517.5" width="30.0" height="12.0" fill="#fff" />
<text x="678.5" y="527.5" font-size="13" stroke="#1a1a1a" stroke-width="0.22" textLength="28.0" lengthAdjust="spacingAndGlyphs" >Door</text>
<path d="M568.3,628.5 L568.3,627.4 L568.3,626.3 L568.3,625.2 L568.3,624.1 L568.3,623.0 L568.4,621.9 L568.4,620.9 L568.5,619.8 L568.5,618.7 L568.6,617.6 L568.7,616.5 L568.8,615.4 L568.9,614.3 L569.0,613.3 L569.1,612.2 L569.2,611.1 L569.4,610.0 L569.5,608.9 L569.7,607.9 L569.8,606.8 L570.0,605.7 L570.2,604.6 L570.4,603.6 L570.6,602.5 L570.8,601.4 L571.0,600.4 L571.3,599.3 L571.5,598.2 L571.7,597.2 L572.0,596.1 L572.3,595.1 L572.5,594.0 L572.8,593.0 L573.1,591.9 L573.4,590.9 L573.7,589.8 L574.1,588.8 L574.4,587.8 L574.7,586.7 L575.1,585.7 L575.5,584.7 L575.8,583.7 L576.2,582.6 L576.6,581.6 L577.0,580.6 L577.4,579.6 L577.8,578.6 L578.2,577.6 L578.6,576.6 L579.1,575.6 L579.5,574.6 L580.0,573.6 L580.4,572.6 L580.9,571.6 L581.4,570.7 L581.9,569.7 L582.4,568.7 L582.9,567.8 L583.4,566.8 L583.9,565.8 L584.5,564.9 L585.0,563.9 L585.6,563.0 L586.1,562.1 L586.7,561.1 L587.2,560.2 L587.8,559.3 L588.4,558.4 L589.0,557.5 L589.6,556.6 L590.2,555.7 L590.9,554.8 L591.5,553.9 L592.1,553.0 L592.8,552.1 L593.4,551.3 L594.1,550.4 L594.7,549.5 L595.4,548.7 L596.1,547.8 L596.8,547.0 L597.5,546.1 L598.2,545.3 L598.9,544.5 L599.6,543.7 L600.3,542.9 L601.1,542.1 L601.8,541.3 L602.5,540.5 L603.3,539.7 L604.1,538.9 L604.8,538.1 L605.6,537.4 L606.4,536.6 L607.2,535.8 L608.0,535.1 L608.8,534.4 L609.6,533.6 L610.4,532.9 L611.2,532.2 L612.0,531.5 L612.8,530.8 L613.7,530.1 L614.5,529.4 L615.4,528.7 L616.2,528.0 L617.1,527.4 L618.0,526.7 L618.8,526.1 L619.7,525.4 L620.6,524.8 L621.5,524.2 L622.4,523.5 L623.3,522.9 L624.2,522.3 L625.1,521.7 L626.0,521.1 L626.9,520.5 L627.8,520.0 L628.8,519.4 L629.7,518.9 L630.6,518.3 L631.6,517.8 L632.5,517.2 L633.5,516.7 L634.5,516.2 L635.4,515.7 L636.4,515.2 L637.4,514.7 L638.3,514.2 L639.3,513.7 L640.3,513.3 L641.3,512.8 L642.3,512.4 L643.3,511.9 L644.3,511.5 L645.3,511.1 L646.3,510.7 L647.3,510.3 L648.3,509.9 L649.3,509.5 L650.4,509.1 L651.4,508.8 L652.4,508.4 L653.4,508.0 L654.5,507.7 L655.5,507.4 L656.5,507.0 L657.6,506.7 L658.6,506.4 L659.7,506.1 L660.7,505.8 L661.8,505.6 L662.8,505.3 L663.9,505.0 L664.9,504.8 L666.0,504.6 L667.1,504.3 L668.1,504.1 L669.2,503.9 L670.3,503.7 L671.3,503.5 L672.4,503.3 L673.5,503.1 L674.6,503.0 L675.6,502.8 L676.7,502.7 L677.8,502.5 L678.9,502.4 L680.0,502.3 L681.0,502.2 L682.1,502.1 L683.2,502.0 L684.3,501.9 L685.4,501.8 L686.5,501.8 L687.6,501.7 L688.6,501.7 L689.7,501.6 L690.8,501.6 L691.9,501.6 L693.0,501.6 L694.1,501.6 L695.2,501.6 L696.3,501.6 L697.4,501.7 L698.4,501.7 L699.5,501.8 L700.6,501.8 L701.7,501.9 L702.8,502.0 L703.9,502.1 L705.0,502.2 L706.0,502.3 L707.1,502.4 L708.2,502.5 L709.3,502.7" fill="none" stroke="#1a1a1a" stroke-width="1.0" />
<path d="M684.30,501.90 L692.49,498.52 L692.88,504.12 Z" fill="#1a1a1a" />
<path d="M658.21,506.55 L665.49,501.51 L667.06,506.90 Z" fill="#1a1a1a" />
<path d="M634.07,516.40 L640.15,509.96 L642.80,514.90 Z" fill="#1a1a1a" />
<path d="M615.37,528.71 L620.20,521.28 L623.69,525.68 Z" fill="#1a1a1a" />
<path d="M597.47,546.14 L600.72,537.91 L605.02,541.51 Z" fill="#1a1a1a" />
<path d="M585.89,562.45 L587.78,553.80 L592.60,556.67 Z" fill="#1a1a1a" />
<path d="M576.20,582.63 L576.51,573.78 L581.77,575.74 Z" fill="#1a1a1a" />
<path d="M570.59,602.51 L569.44,593.73 L574.95,594.80 Z" fill="#1a1a1a" />
<path d="M568.30,627.39 L565.43,619.01 L571.04,618.96 Z" fill="#1a1a1a" />
<text x="0" y="4.8" font-size="14.5" text-anchor="middle" transform="translate(696.3 488.9) rotate(-15)">10<tspan font-size="8" dy="-6">°</tspan></text>
<text x="0" y="4.8" font-size="14.5" text-anchor="middle" transform="translate(667.6 492.9) rotate(-20)">20<tspan font-size="8" dy="-6">°</tspan></text>
<text x="0" y="4.8" font-size="14.5" text-anchor="middle" transform="translate(644.8 502.7) rotate(-26)">30<tspan font-size="8" dy="-6">°</tspan></text>
<text x="0" y="4.8" font-size="14.5" text-anchor="middle" transform="translate(621.1 515.6) rotate(-34)">40<tspan font-size="8" dy="-6">°</tspan></text>
<text x="0" y="4.8" font-size="14.5" text-anchor="middle" transform="translate(600.3 532.4) rotate(-43)">50<tspan font-size="8" dy="-6">°</tspan></text>
<text x="0" y="4.8" font-size="14.5" text-anchor="middle" transform="translate(584.5 550.2) rotate(-52)">60<tspan font-size="8" dy="-6">°</tspan></text>
<text x="0" y="4.8" font-size="14.5" text-anchor="middle" transform="translate(571.7 571.0) rotate(-60)">70<tspan font-size="8" dy="-6">°</tspan></text>
<text x="0" y="4.8" font-size="14.5" text-anchor="middle" transform="translate(561.8 593.7) rotate(-68)">80<tspan font-size="8" dy="-6">°</tspan></text>
<text x="0" y="4.8" font-size="14.5" text-anchor="middle" transform="translate(557.8 616.5) rotate(-76)">90<tspan font-size="8" dy="-6">°</tspan></text>
<line x1="799.2" y1="627.6" x2="799.2" y2="627.6" stroke="#1a1a1a" stroke-width="0" />
<text x="788.0" y="618.1" font-size="13" stroke="#1a1a1a" stroke-width="0.22" transform="rotate(-90 788.0 618.1)" >Overlay 16</text>
<line x1="784.4" y1="619.0" x2="784.4" y2="666.6" stroke="#1a1a1a" stroke-width="0.9" />
<path d="M784.40,627.60 L787.08,634.80 L781.72,634.80 Z" fill="#1a1a1a" />
<path d="M784.40,666.60 L781.72,659.40 L787.08,659.40 Z" fill="#1a1a1a" />
<line x1="774.5" y1="666.6" x2="790.0" y2="666.6" stroke="#1a1a1a" stroke-width="0.6" />
<line x1="784.4" y1="680.9" x2="784.4" y2="697.0" stroke="#1a1a1a" stroke-width="0.9" />
<path d="M784.40,680.90 L787.08,688.10 L781.72,688.10 Z" fill="#1a1a1a" />
<text x="788.0" y="712.0" font-size="13" stroke="#1a1a1a" stroke-width="0.22" transform="rotate(-90 788.0 712.0)" >5.8</text>
<text x="803.5" y="744.0" font-size="12" stroke="#1a1a1a" stroke-width="0.22" transform="rotate(-90 803.5 744.0)" >Opening</text>
<text x="816.5" y="747.5" font-size="12.3" stroke="#1a1a1a" stroke-width="0.22" textLength="51.0" lengthAdjust="spacingAndGlyphs" transform="rotate(-90 816.5 747.5)" >Clearance</text>
<path d="M795,694.5 Q806.5,685 818,694.5" fill="none" stroke="#1a1a1a" stroke-width="1.0" />
<path d="M795,748.5 Q806.5,758 818,748.5" fill="none" stroke="#1a1a1a" stroke-width="1.0" />
<line x1="700.0" y1="695.3" x2="709.5" y2="695.3" stroke="#1a1a1a" stroke-width="0.9" />
<path d="M709.50,695.30 L702.30,697.98 L702.30,692.62 Z" fill="#1a1a1a" />
<line x1="711.6" y1="695.3" x2="722.0" y2="695.3" stroke="#1a1a1a" stroke-width="0.9" />
<path d="M711.60,695.30 L718.80,692.62 L718.80,697.98 Z" fill="#1a1a1a" />
<text x="721.5" y="699.5" font-size="13" stroke="#1a1a1a" stroke-width="0.22" >1</text>
<rect x="715.0" y="663.0" width="64.0" height="11.0" fill="#fff" />
<text x="716.8" y="672.1" font-size="10.5" stroke="#1a1a1a" stroke-width="0.22" textLength="61.7" lengthAdjust="spacingAndGlyphs" >Bottom Panel</text>
<text x="440.4" y="796.1" font-size="15" stroke="#1a1a1a" stroke-width="0.22" textLength="558.6" lengthAdjust="spacingAndGlyphs" word-spacing="1.34">A gap equivalent to opening clearance is required for door opening and closing.</text>
<text x="440.4" y="816.0" font-size="15" stroke="#1a1a1a" stroke-width="0.22" textLength="558.6" lengthAdjust="spacingAndGlyphs" word-spacing="0.50">Drawing above is door thickness 20 mm, bottom panel thickness 20 mm and 16 mm</text>
<text x="440.4" y="835.6" font-size="15" stroke="#1a1a1a" stroke-width="0.22" textLength="558.6" lengthAdjust="spacingAndGlyphs" word-spacing="2.81">overlay. The value of opening clearance may change with the door thickness.</text>
<text x="440.4" y="854.8" font-size="15" stroke="#1a1a1a" stroke-width="0.22" textLength="222.6" lengthAdjust="spacingAndGlyphs" >Please confirm in the locus chart.</text>
<text x="436.9" y="923.5" font-size="15" font-weight="bold" stroke="#1a1a1a" stroke-width="0.22" textLength="153.8" lengthAdjust="spacingAndGlyphs" >[Cut Out Dimensions]</text>
<rect x="436.9" y="930.5" width="263.1" height="192.5" fill="#e5e5e5" />
<circle cx="542.8" cy="1007.2" r="56.1" fill="#fff" stroke="#1a1a1a" stroke-width="1.6" clip-path="url(#cL)"/>
<circle cx="597.9" cy="1007.2" r="56.1" fill="#fff" stroke="#1a1a1a" stroke-width="1.6" clip-path="url(#cR)"/>
<line x1="567.7" y1="930.5" x2="567.7" y2="1123.0" stroke="#1a1a1a" stroke-width="1.6" />
<line x1="573.2" y1="930.5" x2="573.2" y2="1123.0" stroke="#1a1a1a" stroke-width="1.6" />
<line x1="479.9" y1="1007.2" x2="660.0" y2="1007.2" stroke="#1a1a1a" stroke-width="0.8" />
<line x1="542.7" y1="1002.0" x2="542.7" y2="1012.0" stroke="#1a1a1a" stroke-width="0.8" />
<line x1="598.1" y1="1002.0" x2="598.1" y2="1012.0" stroke="#1a1a1a" stroke-width="0.8" />
<line x1="448.8" y1="951.2" x2="542.0" y2="951.2" stroke="#1a1a1a" stroke-width="0.8" />
<line x1="448.8" y1="1063.4" x2="542.0" y2="1063.4" stroke="#1a1a1a" stroke-width="0.8" />
<line x1="598.0" y1="951.2" x2="691.8" y2="951.2" stroke="#1a1a1a" stroke-width="0.8" />
<line x1="598.0" y1="1063.4" x2="691.8" y2="1063.4" stroke="#1a1a1a" stroke-width="0.8" />
<line x1="454.9" y1="951.2" x2="454.9" y2="995.0" stroke="#1a1a1a" stroke-width="0.9" />
<line x1="454.9" y1="1020.0" x2="454.9" y2="1063.4" stroke="#1a1a1a" stroke-width="0.9" />
<path d="M454.90,951.20 L457.83,959.60 L451.97,959.60 Z" fill="#1a1a1a" />
<path d="M454.90,1063.40 L451.97,1055.00 L457.83,1055.00 Z" fill="#1a1a1a" />
<line x1="686.2" y1="951.2" x2="686.2" y2="995.0" stroke="#1a1a1a" stroke-width="0.9" />
<line x1="686.2" y1="1020.0" x2="686.2" y2="1063.4" stroke="#1a1a1a" stroke-width="0.9" />
<path d="M686.20,951.20 L689.13,959.60 L683.27,959.60 Z" fill="#1a1a1a" />
<path d="M686.20,1063.40 L683.27,1055.00 L689.13,1055.00 Z" fill="#1a1a1a" />
<text x="460.0" y="1016.0" font-size="13" stroke="#1a1a1a" stroke-width="0.22" transform="rotate(-90 460.0 1016.0)" >35</text>
<text x="691.5" y="1016.0" font-size="13" stroke="#1a1a1a" stroke-width="0.22" transform="rotate(-90 691.5 1016.0)" >35</text>
<line x1="486.8" y1="1007.2" x2="486.8" y2="1113.3" stroke="#1a1a1a" stroke-width="0.8" />
<line x1="653.8" y1="1007.2" x2="653.8" y2="1113.3" stroke="#1a1a1a" stroke-width="0.8" />
<line x1="486.8" y1="1107.8" x2="516.0" y2="1107.8" stroke="#1a1a1a" stroke-width="0.9" />
<line x1="536.0" y1="1107.8" x2="567.7" y2="1107.8" stroke="#1a1a1a" stroke-width="0.9" />
<path d="M486.80,1107.80 L495.20,1104.87 L495.20,1110.73 Z" fill="#1a1a1a" />
<path d="M567.70,1107.80 L559.30,1110.73 L559.30,1104.87 Z" fill="#1a1a1a" />
<line x1="573.2" y1="1107.8" x2="604.0" y2="1107.8" stroke="#1a1a1a" stroke-width="0.9" />
<line x1="624.0" y1="1107.8" x2="653.8" y2="1107.8" stroke="#1a1a1a" stroke-width="0.9" />
<path d="M573.20,1107.80 L581.60,1104.87 L581.60,1110.73 Z" fill="#1a1a1a" />
<path d="M653.80,1107.80 L645.40,1110.73 L645.40,1104.87 Z" fill="#1a1a1a" />
<text x="526.3" y="1112.5" font-size="13" stroke="#1a1a1a" stroke-width="0.22" text-anchor="middle" >26</text>
<text x="613.8" y="1112.5" font-size="13" stroke="#1a1a1a" stroke-width="0.22" text-anchor="middle" >26</text>
<text x="747.4" y="924.0" font-size="15" font-weight="bold" stroke="#1a1a1a" stroke-width="0.22" textLength="139.6" lengthAdjust="spacingAndGlyphs" >[Number of Hinges]</text>
<text x="747.4" y="945.4" font-size="13" stroke="#1a1a1a" stroke-width="0.22" textLength="225.6" lengthAdjust="spacingAndGlyphs" >In case of door thickness up to 20 mm.</text>
<rect x="778.6" y="960.1" width="76.9" height="80.9" fill="none" stroke="#1a1a1a" stroke-width="1.6" />
<rect x="861.4" y="960.1" width="77.5" height="80.9" fill="none" stroke="#1a1a1a" stroke-width="1.6" />
<path d="M777.3,1050.9 H855.5 V1132.9 H758 Z" fill="none" stroke="#1a1a1a" stroke-width="1.6" />
<path d="M861.4,1050.9 H940.2 L958.9,1132.9 H861.4 Z" fill="none" stroke="#1a1a1a" stroke-width="1.6" />
<text x="778.0" y="1100.3" font-size="27.5" stroke="#1a1a1a" stroke-width="0.22" textLength="70.0" lengthAdjust="spacingAndGlyphs" >2 pcs</text>
<text x="871.6" y="1100.3" font-size="27.5" stroke="#1a1a1a" stroke-width="0.22" textLength="69.4" lengthAdjust="spacingAndGlyphs" >3 pcs</text>
<line x1="748.7" y1="1050.9" x2="748.7" y2="1080.0" stroke="#1a1a1a" stroke-width="0.9" />
<line x1="748.7" y1="1102.0" x2="748.7" y2="1132.9" stroke="#1a1a1a" stroke-width="0.9" />
<path d="M748.70,1050.90 L751.63,1059.30 L745.77,1059.30 Z" fill="#1a1a1a" />
<path d="M748.70,1132.90 L745.77,1124.50 L751.63,1124.50 Z" fill="#1a1a1a" />
<line x1="743.0" y1="1050.9" x2="756.0" y2="1050.9" stroke="#1a1a1a" stroke-width="0.8" />
<line x1="743.0" y1="1132.9" x2="756.0" y2="1132.9" stroke="#1a1a1a" stroke-width="0.8" />
<text x="753.0" y="1101.0" font-size="13" stroke="#1a1a1a" stroke-width="0.22" transform="rotate(-90 753.0 1101.0)" >500</text>
<line x1="758.0" y1="1143.6" x2="958.9" y2="1143.6" stroke="#1a1a1a" stroke-width="0.9" />
<line x1="758.0" y1="1136.0" x2="758.0" y2="1149.0" stroke="#1a1a1a" stroke-width="0.9" />
<line x1="858.7" y1="1136.0" x2="858.7" y2="1149.0" stroke="#1a1a1a" stroke-width="0.9" />
<line x1="958.9" y1="1136.0" x2="958.9" y2="1149.0" stroke="#1a1a1a" stroke-width="0.9" />
<text x="858.7" y="1157.7" font-size="13" stroke="#1a1a1a" stroke-width="0.22" text-anchor="middle" >900</text>
<text x="959.0" y="1157.7" font-size="13" stroke="#1a1a1a" stroke-width="0.22" text-anchor="middle" >1200</text>
<text x="859.5" y="1177.8" font-size="13" stroke="#1a1a1a" stroke-width="0.22" text-anchor="middle" >Door width</text>
<text x="24.1" y="1090.8" font-size="15" font-weight="bold" stroke="#1a1a1a" stroke-width="0.22" textLength="157.4" lengthAdjust="spacingAndGlyphs" >[Application Example]</text>
<g clip-path="url(#appClip)">
<rect x="24.1" y="1098.6" width="314.7" height="238.7" fill="url(#wallL)" />
<path d="M168,1098.6 H338.8 V1305 L168,1272 Z" fill="url(#wallR)" />
<path d="M157,1098.6 H168 V1272 L157,1275 Z" fill="#f3f4f4" />
<path d="M24.1,1252 L157,1275 L168,1272 L338.8,1305 V1337.3 H24.1 Z" fill="url(#floorG)" />
<line x1="24.1" y1="1337.0" x2="157.0" y2="1274.0" stroke="#b8baba" stroke-width="0.8" />
<line x1="60.0" y1="1337.0" x2="168.0" y2="1272.0" stroke="#c8caca" stroke-width="0.6" />
<rect x="112.0" y="1116.5" width="30.0" height="19.0" fill="#1a1f1e" rx="3"/>
<circle cx="117.5" cy="1121.0" r="1.9" fill="#c8c8c8" />
<circle cx="137.0" cy="1122.0" r="1.9" fill="#c8c8c8" />
<path d="M104,1140 Q104,1126 122,1125 Q144,1125 144.5,1140 V1244 Q144.5,1251 138,1251 H110 Q104,1251 104,1245 Z" fill="#1b2120" />
<path d="M106,1150 V1244 H111 V1150 Z" fill="#262d2c" />
<path d="M136,1135 V1248 H144.5 V1140 Z" fill="#141817" />
<circle cx="118.5" cy="1148.0" r="3.4" fill="#dcdcdc" />
<path d="M118,1133 L136,1127 L294,1296 L285,1303 Z" fill="url(#armG)" />
<path d="M120,1134 L134,1129 L216,1216 L206,1221 Z" fill="#d9dbdb" />
<path d="M134,1129 L136,1127 L218,1214 L216,1216 Z" fill="#8e9090" />
<line x1="204.0" y1="1219.0" x2="216.0" y2="1214.0" stroke="#777" stroke-width="1.2" />
<path d="M262,1302 L298,1306 L300,1312 L265,1309 Z" fill="#b8b8b8" />
<path d="M278,1292 L290,1292 L294,1306 L276,1306 Z" fill="#9a9a9a" />
<circle cx="285.0" cy="1298.0" r="2.5" fill="#e0e0e0" />
<ellipse cx="90.7" cy="1310.5" rx="27" ry="7" fill="#6e7070"/>
<ellipse cx="90.7" cy="1309.5" rx="25" ry="5.5" fill="#b9bbbb"/>
<ellipse cx="78" cy="1309" rx="6" ry="3" fill="#e8e8e8"/>
<ellipse cx="103" cy="1310" rx="6" ry="3" fill="#e0e0e0"/>
<line x1="90.7" y1="1304.0" x2="90.7" y2="1316.0" stroke="#555" stroke-width="1.2" />
</g>
<text x="24.0" y="1357.5" font-size="13.5" stroke="#1a1a1a" stroke-width="0.22" textLength="313.8" lengthAdjust="spacingAndGlyphs" word-spacing="0.50">Combination with HEAVY DUTY SOFT-DOWN STAY</text>
<text x="24.0" y="1375.3" font-size="13.5" stroke="#1a1a1a" stroke-width="0.22" textLength="44.5" lengthAdjust="spacingAndGlyphs" >HDS-10</text>
<path d="M73.2,1363.2 H91.2 L98.2,1369.6 L91.2,1376.0 H73.2 Z" fill="#1d6d95" />
<text x="83.2" y="1373.7" font-size="13" font-weight="bold" fill="#fff" stroke="#fff" stroke-width="0.22" text-anchor="middle" >4</text>
<text x="24.0" y="1408.0" font-size="15" font-weight="bold" stroke="#1a1a1a" stroke-width="0.22" textLength="51.5" lengthAdjust="spacingAndGlyphs" >[Hinge]</text>
<text x="436.3" y="1353.6" font-size="15" font-weight="bold" stroke="#1a1a1a" stroke-width="0.22" textLength="273.4" lengthAdjust="spacingAndGlyphs" >[Pan Head Tapping Screw 3×13] Black</text>
<rect x="438.7" y="1364.4" width="21.9" height="17.9" fill="url(#hdrG)" />
<rect x="463.6" y="1364.4" width="23.7" height="17.9" fill="url(#hdrG)" />
<rect x="490.3" y="1364.4" width="116.1" height="17.9" fill="url(#hdrB)" />
<rect x="609.4" y="1364.4" width="106.0" height="17.9" fill="url(#hdrG)" />
<rect x="718.4" y="1364.4" width="95.5" height="17.9" fill="url(#hdrG)" />
<rect x="816.9" y="1364.4" width="89.3" height="17.9" fill="url(#hdrG)" />
<rect x="909.2" y="1364.4" width="89.3" height="17.9" fill="url(#hdrG)" />
<rect x="489.6" y="1384.3" width="117.5" height="20.5" fill="#fcfae6" />
<rect x="437.2" y="1362.2" width="562.8" height="2.3" fill="#222" />
<rect x="437.2" y="1382.9" width="562.8" height="1.8" fill="#222" />
<rect x="437.2" y="1404.7" width="562.8" height="1.4" fill="#333" />
<rect x="461.5" y="1362.2" width="1.3" height="43.1" fill="#444" />
<rect x="488.2" y="1362.2" width="1.3" height="43.1" fill="#4a68b0" />
<rect x="607.3" y="1362.2" width="1.3" height="43.1" fill="#4a68b0" />
<rect x="716.3" y="1362.2" width="1.3" height="43.1" fill="#444" />
<rect x="814.8" y="1362.2" width="1.3" height="43.1" fill="#444" />
<rect x="907.1" y="1362.2" width="1.3" height="43.1" fill="#444" />
<text x="441.4" y="1379.6" font-size="12" font-weight="bold" stroke="#1a1a1a" stroke-width="0.22" textLength="17.0" lengthAdjust="spacingAndGlyphs" >RoHS</text>
<text x="468.0" y="1379.6" font-size="12.5" font-weight="bold" stroke="#1a1a1a" stroke-width="0.22" textLength="16.0" lengthAdjust="spacingAndGlyphs" >CAD</text>
<text x="515.5" y="1379.6" font-size="14" font-weight="bold" fill="#fff" stroke="#fff" stroke-width="0.22" textLength="65.9" lengthAdjust="spacingAndGlyphs" >Item Code</text>
<text x="627.4" y="1379.6" font-size="14" font-weight="bold" stroke="#1a1a1a" stroke-width="0.22" textLength="69.4" lengthAdjust="spacingAndGlyphs" >Item Name</text>
<text x="745.5" y="1379.6" font-size="14" font-weight="bold" stroke="#1a1a1a" stroke-width="0.22" textLength="41.6" lengthAdjust="spacingAndGlyphs" >1 pack</text>
<text x="828.6" y="1379.6" font-size="14" font-weight="bold" stroke="#1a1a1a" stroke-width="0.22" textLength="66.8" lengthAdjust="spacingAndGlyphs" >Weight (g)</text>
<text x="922.2" y="1379.6" font-size="14" font-weight="bold" stroke="#1a1a1a" stroke-width="0.22" textLength="62.4" lengthAdjust="spacingAndGlyphs" >Box (pcs)</text>
<rect x="441.4" y="1388.2" width="16.5" height="13.7" fill="#1f9d6a" />
<text x="448.4" y="1399.7" font-size="12.5" font-weight="bold" fill="#fff" stroke="#fff" stroke-width="0.22" text-anchor="middle" textLength="10.5" lengthAdjust="spacingAndGlyphs" >G</text>
<path d="M451.9,1391.7 L455.9,1390.2 L454.7,1394.2 Z" fill="#fff" />
<rect x="471.5" y="1396.2" width="8.0" height="1.5" fill="#1a1a1a" />
<text x="512.8" y="1400.5" font-size="14" stroke="#1a1a1a" stroke-width="0.22" textLength="72.2" lengthAdjust="spacingAndGlyphs" >170-011-885</text>
<text x="616.5" y="1400.5" font-size="14" stroke="#1a1a1a" stroke-width="0.22" textLength="88.9" lengthAdjust="spacingAndGlyphs" >SDH-001-S-BL</text>
<text x="741.5" y="1400.5" font-size="14" stroke="#1a1a1a" stroke-width="0.22" textLength="48.7" lengthAdjust="spacingAndGlyphs" >300 pcs</text>
<text x="851.4" y="1400.5" font-size="14" stroke="#1a1a1a" stroke-width="0.22" textLength="20.9" lengthAdjust="spacingAndGlyphs" >179</text>
<text x="942.4" y="1400.5" font-size="14" stroke="#1a1a1a" stroke-width="0.22" textLength="22.7" lengthAdjust="spacingAndGlyphs" >300</text>
<rect x="24.8" y="1420.4" width="23.6" height="18.2" fill="url(#hdrG)" />
<rect x="51.4" y="1420.4" width="23.1" height="18.2" fill="url(#hdrG)" />
<rect x="77.5" y="1420.4" width="109.8" height="18.2" fill="url(#hdrB)" />
<rect x="190.3" y="1420.4" width="89.6" height="18.2" fill="url(#hdrG)" />
<rect x="282.9" y="1420.4" width="62.4" height="18.2" fill="url(#hdrG)" />
<rect x="348.3" y="1420.4" width="128.9" height="18.2" fill="url(#hdrG)" />
<rect x="480.2" y="1420.4" width="57.3" height="18.2" fill="url(#hdrG)" />
<rect x="540.5" y="1420.4" width="171.2" height="18.2" fill="url(#hdrG)" />
<rect x="714.7" y="1420.4" width="85.0" height="18.2" fill="url(#hdrG)" />
<rect x="802.7" y="1420.4" width="61.2" height="18.2" fill="url(#hdrG)" />
<rect x="866.9" y="1420.4" width="58.8" height="18.2" fill="url(#hdrG)" />
<rect x="928.7" y="1420.4" width="68.4" height="18.2" fill="url(#hdrG)" />
<rect x="76.8" y="1440.6" width="111.2" height="41.1" fill="#fcfae6" />
<rect x="23.3" y="1418.2" width="975.3" height="2.3" fill="#222" />
<rect x="23.3" y="1439.2" width="975.3" height="1.8" fill="#222" />
<rect x="23.3" y="1481.6" width="975.3" height="1.4" fill="#333" />
<rect x="23.3" y="1460.3" width="258.1" height="1.2" fill="#444" />
<rect x="346.8" y="1460.3" width="131.9" height="1.2" fill="#444" />
<rect x="801.2" y="1460.3" width="197.4" height="1.2" fill="#444" />
<rect x="49.3" y="1418.2" width="1.3" height="64.0" fill="#444" />
<rect x="75.4" y="1418.2" width="1.3" height="64.0" fill="#4a68b0" />
<rect x="188.2" y="1418.2" width="1.3" height="64.0" fill="#4a68b0" />
<rect x="280.8" y="1418.2" width="1.3" height="64.0" fill="#444" />
<rect x="346.2" y="1418.2" width="1.3" height="64.0" fill="#444" />
<rect x="478.1" y="1418.2" width="1.3" height="64.0" fill="#444" />
<rect x="538.4" y="1418.2" width="1.3" height="64.0" fill="#444" />
<rect x="712.6" y="1418.2" width="1.3" height="64.0" fill="#444" />
<rect x="800.6" y="1418.2" width="1.3" height="64.0" fill="#444" />
<rect x="864.8" y="1418.2" width="1.3" height="64.0" fill="#444" />
<rect x="926.6" y="1418.2" width="1.3" height="64.0" fill="#444" />
<text x="28.5" y="1435.5" font-size="12" font-weight="bold" stroke="#1a1a1a" stroke-width="0.22" textLength="17.3" lengthAdjust="spacingAndGlyphs" >RoHS</text>
<text x="54.7" y="1435.5" font-size="12.5" font-weight="bold" stroke="#1a1a1a" stroke-width="0.22" textLength="16.9" lengthAdjust="spacingAndGlyphs" >CAD</text>
<text x="99.2" y="1435.5" font-size="14" font-weight="bold" fill="#fff" stroke="#fff" stroke-width="0.22" textLength="66.8" lengthAdjust="spacingAndGlyphs" >Item Code</text>
<text x="199.5" y="1435.5" font-size="14" font-weight="bold" stroke="#1a1a1a" stroke-width="0.22" textLength="69.8" lengthAdjust="spacingAndGlyphs" >Item Name</text>
<text x="288.0" y="1435.5" font-size="14" font-weight="bold" stroke="#1a1a1a" stroke-width="0.22" textLength="52.0" lengthAdjust="spacingAndGlyphs" >Material</text>
<text x="392.9" y="1435.5" font-size="14" font-weight="bold" stroke="#1a1a1a" stroke-width="0.22" textLength="39.8" lengthAdjust="spacingAndGlyphs" >Finish</text>
<text x="482.9" y="1435.5" font-size="14" font-weight="bold" stroke="#1a1a1a" stroke-width="0.22" textLength="50.1" lengthAdjust="spacingAndGlyphs" >Overlay</text>
<text x="541.9" y="1435.5" font-size="14" font-weight="bold" stroke="#1a1a1a" stroke-width="0.22" textLength="166.5" lengthAdjust="spacingAndGlyphs" >Recommended Door Thickness</text>
<text x="717.9" y="1435.5" font-size="14" font-weight="bold" stroke="#1a1a1a" stroke-width="0.22" textLength="79.5" lengthAdjust="spacingAndGlyphs" >Opening Angle</text>
<text x="806.9" y="1435.5" font-size="14" font-weight="bold" stroke="#1a1a1a" stroke-width="0.22" textLength="54.7" lengthAdjust="spacingAndGlyphs" >Weight (g)</text>
<text x="868.7" y="1435.5" font-size="14" font-weight="bold" stroke="#1a1a1a" stroke-width="0.22" textLength="53.8" lengthAdjust="spacingAndGlyphs" >Box (pcs)</text>
<text x="930.6" y="1435.5" font-size="14" font-weight="bold" stroke="#1a1a1a" stroke-width="0.22" textLength="64.7" lengthAdjust="spacingAndGlyphs" >Carton (pcs)</text>
<rect x="28.0" y="1444.0" width="17.8" height="14.0" fill="#1f9d6a" />
<text x="35.7" y="1455.8" font-size="12.5" font-weight="bold" fill="#fff" stroke="#fff" stroke-width="0.22" text-anchor="middle" textLength="10.5" lengthAdjust="spacingAndGlyphs" >G</text>
<path d="M39.8,1447.5 L43.8,1446.0 L42.6,1450.0 Z" fill="#fff" />
<rect x="54.7" y="1444.4" width="16.9" height="13.0" fill="#d8336f" rx="1.5"/>
<text x="63.2" y="1454.8" font-size="10.5" font-weight="bold" fill="#fff" stroke="#fff" stroke-width="0.22" text-anchor="middle" textLength="12.5" lengthAdjust="spacingAndGlyphs" >3D</text>
<rect x="54.7" y="1465.0" width="16.9" height="13.0" fill="#d8336f" rx="1.5"/>
<text x="63.2" y="1475.4" font-size="10.5" font-weight="bold" fill="#fff" stroke="#fff" stroke-width="0.22" text-anchor="middle" textLength="12.5" lengthAdjust="spacingAndGlyphs" >3D</text>
<rect x="33.4" y="1473.0" width="7.6" height="1.5" fill="#1a1a1a" />
<text x="94.4" y="1456.8" font-size="14" stroke="#1a1a1a" stroke-width="0.22" textLength="76.0" lengthAdjust="spacingAndGlyphs" >170-090-471</text>
<text x="94.4" y="1477.6" font-size="14" stroke="#1a1a1a" stroke-width="0.22" textLength="76.0" lengthAdjust="spacingAndGlyphs" >170-010-648</text>
<text x="197.3" y="1456.8" font-size="14" stroke="#1a1a1a" stroke-width="0.22" textLength="47.7" lengthAdjust="spacingAndGlyphs" >SDH-001</text>
<text x="197.3" y="1477.6" font-size="14" stroke="#1a1a1a" stroke-width="0.22" textLength="68.2" lengthAdjust="spacingAndGlyphs" >SDH-001BL</text>
<text x="284.5" y="1457.4" font-size="14" stroke="#1a1a1a" stroke-width="0.22" textLength="58.9" lengthAdjust="spacingAndGlyphs" >Zinc Alloy</text>
<text x="296.0" y="1478.5" font-size="14" stroke="#1a1a1a" stroke-width="0.22" textLength="36.3" lengthAdjust="spacingAndGlyphs" >(ZDC)</text>
<text x="393.9" y="1457.4" font-size="14" stroke="#1a1a1a" stroke-width="0.22" textLength="37.7" lengthAdjust="spacingAndGlyphs" >Nickel</text>
<text x="350.7" y="1478.5" font-size="14" stroke="#1a1a1a" stroke-width="0.22" textLength="124.2" lengthAdjust="spacingAndGlyphs" >Black Enamel Finish</text>
<text x="490.5" y="1467.1" font-size="14" stroke="#1a1a1a" stroke-width="0.22" textLength="36.3" lengthAdjust="spacingAndGlyphs" >14~16</text>
<text x="607.0" y="1467.1" font-size="14" stroke="#1a1a1a" stroke-width="0.22" textLength="37.2" lengthAdjust="spacingAndGlyphs" >16~20</text>
<text x="826.0" y="1457.6" font-size="14" stroke="#1a1a1a" stroke-width="0.22" textLength="17.0" lengthAdjust="spacingAndGlyphs" >85</text>
<text x="826.0" y="1478.0" font-size="14" stroke="#1a1a1a" stroke-width="0.22" textLength="17.0" lengthAdjust="spacingAndGlyphs" >85</text>
<text x="889.2" y="1457.6" font-size="14" stroke="#1a1a1a" stroke-width="0.22" textLength="16.6" lengthAdjust="spacingAndGlyphs" >50</text>
<text x="889.2" y="1478.0" font-size="14" stroke="#1a1a1a" stroke-width="0.22" textLength="16.6" lengthAdjust="spacingAndGlyphs" >50</text>
<text x="951.0" y="1457.6" font-size="14" stroke="#1a1a1a" stroke-width="0.22" textLength="24.8" lengthAdjust="spacingAndGlyphs" >200</text>
<text x="951.0" y="1478.0" font-size="14" stroke="#1a1a1a" stroke-width="0.22" textLength="24.8" lengthAdjust="spacingAndGlyphs" >200</text>
<text x="745.5" y="1467.6" font-size="14" stroke="#1a1a1a" stroke-width="0.22" textLength="13.0" lengthAdjust="spacingAndGlyphs" >90</text>
<text x="759.5" y="1461.1" font-size="9" stroke="#1a1a1a" stroke-width="0.22" >°</text>
</svg>
</body></html>
